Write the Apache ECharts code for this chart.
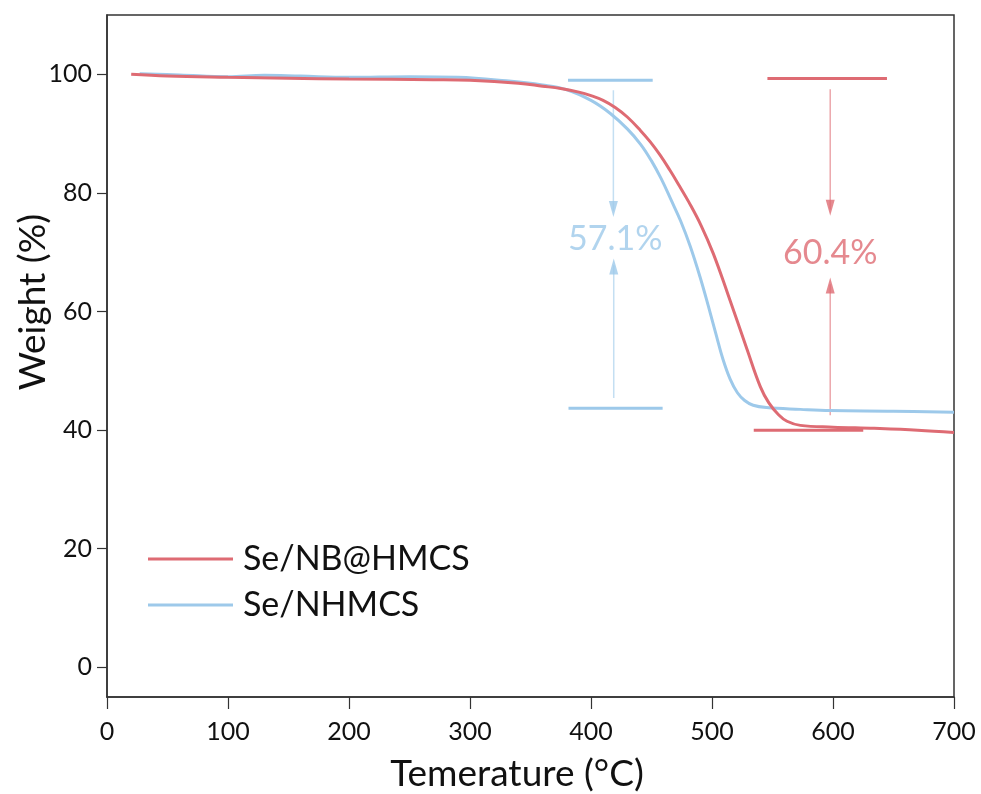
<!DOCTYPE html>
<html>
<head>
<meta charset="utf-8">
<script src="https://cdn.jsdelivr.net/npm/echarts@6/dist/echarts.min.js"></script>
<style>
html,body{margin:0;padding:0;background:#fff;}
#chart{width:981px;height:794px;}
</style>
</head>
<body>
<div id="chart"></div>
<script>
// ---- data ----
const seriesNames = ['Se/NB@HMCS', 'Se/NHMCS'];
const xTicks = [0, 100, 200, 300, 400, 500, 600, 700];
const yTicks = [0, 20, 40, 60, 80, 100];

const redCurve = [
  [20,100.0],[50,99.7],[100,99.5],[150,99.35],[200,99.2],[270,99.1],[300,99.0],[340,98.5],[360,98.0],
  [375,97.6],[390,97.0],[400,96.4],[410,95.6],[420,94.4],[430,92.8],[441,90.5],[449,88.6],[457,86.4],[465,83.9],
  [473,81.2],[481,78.4],[491,74.5],[501,69.8],[513,63.0],[529,53.6],[540,47.3],[547,44.6],
  [555,42.6],[562,41.5],[573,40.8],[600,40.5],[634,40.3],[670,40.0],[700,39.6]
];
const blueCurve = [
  [27,100.1],[60,99.9],[100,99.6],[130,99.85],[160,99.7],[200,99.5],[250,99.6],[290,99.5],
  [330,98.9],[360,98.2],[380,97.4],[400,95.6],[416,93.4],[430,90.8],[441,88.2],[450,85.4],
  [458,82.4],[466,78.9],[474,75.3],[482,71.0],[490,65.9],[497,60.9],[503,56.4],[509,52.0],
  [515,48.6],[521,46.3],[527,45.0],[534,44.2],[545,43.8],[573,43.5],[598,43.3],[650,43.2],[700,43.0]
];

// annotation geometry (data coordinates)
const blueTopBar = [[381,99.0],[451,99.0]];
const blueBottomBar = [[381.4,43.7],[459.2,43.7]];
const redTopBar = [[545.8,99.3],[644.6,99.3]];
const redBottomBar = [[534.5,40.0],[625,40.0]];

const blueArrowDown = [[418.5,97.3],[418.5,77.0]];
const blueArrowUp = [[418.8,45.4],[418.8,67.8]];
const redArrowDown = [[597.7,97.5],[597.7,77.2]];
const redArrowUp = [[597.7,42.5],[597.7,64.6]];

const blueHeads = [[418.5,77.3],[418.8,67.6]];
const redHeads = [[597.7,77.5],[597.7,64.4]];

const blueLabel = {text:'57.1%', pos:[420,72.3]};
const redLabel = {text:'60.4%', pos:[597.7,69.8]};

// ---- styles ----
const RED = '#DE6B73';
const BLUE = '#9DC9EA';
const FONT = 'Lato';

function bar(data, color){
  return {type:'line', data:data, symbol:'none', silent:true,
          lineStyle:{color:color, width:3}, z:3};
}
function thin(data, color){
  return {type:'line', data:data, symbol:'none', silent:true,
          lineStyle:{color:color, width:1.5, opacity:0.6}, z:3};
}
function heads(data, color){
  return {type:'scatter', silent:true, symbol:'triangle', symbolSize:[9,16],
          symbolRotate:function(v, p){ return p.dataIndex === 0 ? 180 : 0; },
          itemStyle:{color:color}, data:data, z:4};
}
function label(l, color){
  return {type:'scatter', silent:true, symbolSize:0, data:[l.pos], z:5,
          label:{show:true, position:'inside', formatter:l.text, color:color,
                 fontFamily:FONT, fontSize:34}};
}

const chart = echarts.init(document.getElementById('chart'));
chart.setOption({
  animation:false,
  backgroundColor:'#fff',
  grid:{left:107, right:27, top:15, bottom:97, show:true, borderColor:'#333', borderWidth:1.5},
  legend:{
    data:seriesNames, orient:'vertical', left:148, top:541, padding:0,
    icon:'rect', itemWidth:85, itemHeight:3, itemGap:10,
    textStyle:{fontFamily:FONT, fontSize:34, color:'#111', lineHeight:36, padding:[0,0,0,5]}
  },
  xAxis:{
    type:'value', min:0, max:700, interval:100,
    axisLine:{show:true, onZero:false, lineStyle:{color:'#333', width:1.5}},
    axisTick:{show:true, inside:false, length:12, lineStyle:{color:'#333', width:1.2}},
    axisLabel:{margin:22, fontFamily:FONT, fontSize:25, color:'#111',
               formatter:function(v){ return xTicks.indexOf(v) >= 0 ? String(v) : ''; }},
    splitLine:{show:false}
  },
  yAxis:{
    type:'value', min:-5, max:110,
    axisLine:{show:true, onZero:false, lineStyle:{color:'#333', width:1.5}},
    axisTick:{show:true, inside:false, length:10, customValues:yTicks, lineStyle:{color:'#333', width:1.2}},
    axisLabel:{margin:15, fontFamily:FONT, fontSize:25, color:'#111', customValues:yTicks},
    splitLine:{show:false}
  },
  graphic:[
    {type:'text', x:33, y:302, rotation:Math.PI/2,
     style:{text:'Weight (%)', fontFamily:FONT, fontSize:37, fill:'#111', align:'center', verticalAlign:'middle'}},
    {type:'text', x:517, y:774,
     style:{text:'Temerature (°C)', fontFamily:FONT, fontSize:37, fill:'#111', align:'center', verticalAlign:'middle'}}
  ],
  series:[
    {name:seriesNames[0], type:'line', data:redCurve, symbol:'none', smooth:0.4,
     lineStyle:{color:RED, width:3}, itemStyle:{color:RED}, z:6},
    {name:seriesNames[1], type:'line', data:blueCurve, symbol:'none', smooth:0.4,
     lineStyle:{color:BLUE, width:3}, itemStyle:{color:BLUE}, z:5},
    bar(blueTopBar, BLUE), bar(blueBottomBar, BLUE),
    bar(redTopBar, RED), bar(redBottomBar, RED),
    thin(blueArrowDown, BLUE), thin(blueArrowUp, BLUE),
    thin(redArrowDown, RED), thin(redArrowUp, RED),
    heads(blueHeads, BLUE), heads(redHeads, RED),
    label(blueLabel, BLUE), label(redLabel, RED)
  ]
});
</script>
</body>
</html>
